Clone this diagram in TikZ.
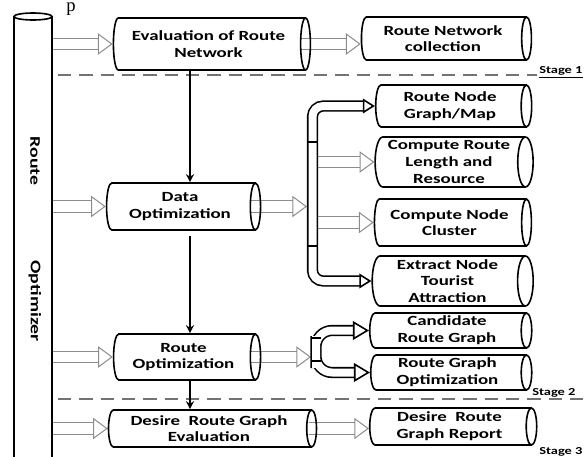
\documentclass[tikz,border=0pt]{standalone}
\usepackage{fontspec}
\newfontfamily\diagfont{Carlito}[FakeStretch=1.35]
\newfontfamily\capfont{Liberation Serif}
\usetikzlibrary{shapes.geometric, arrows.meta}

\pgfdeclarelayer{back}
\pgfsetlayers{back,main}

\begin{document}
\begin{tikzpicture}[x=0.75pt, y=-0.75pt,
    cyl/.style={cylinder, draw, line width=1.2pt, aspect=0.35, inner sep=0.5pt,
        align=center, font=\diagfont\bfseries\fontsize{10.5}{12.5}\selectfont},
    hollow/.style={draw=black!45, line width=0.75pt, double=white, double distance=8pt,
        -{Triangle[open, length=11pt, width=16pt]}},
    pipe/.style={draw=black, line width=1.2pt, double=white, double distance=6pt,
        rounded corners=8pt},
    down/.style={line width=1.2pt, -{Stealth[length=6pt, width=6pt]}},
    stageline/.style={draw=black!55, line width=1.5pt, dash pattern=on 10pt off 6pt},
    stage/.style={font=\diagfont\bfseries\fontsize{8}{9}\selectfont, inner sep=0pt}]

    \useasboundingbox (0,0) rectangle (587,457);

    % route optimizer column
    \draw[line width=1.2pt] (14,16.5) -- (14,470) (52,16.5) -- (52,470);
    \draw[line width=1.2pt] (33,16.5) ellipse (19 and 3.5);
    \node[rotate=-90, font=\diagfont\bfseries\fontsize{11}{12}\selectfont] (rtxt) at (35,161) {Route};
    \node[rotate=-90, font=\diagfont\bfseries\fontsize{11}{12}\selectfont] (otxt) at (35,301) {Optimizer};
    \node[font=\capfont\fontsize{14}{14}\selectfont, anchor=base, inner sep=0pt] (ptxt) at (71,11) {p};

    \coordinate (rail) at (52,0);
    \coordinate (spine) at (190,0);
    \coordinate (hub1) at (307,0);
    \coordinate (bar1) at (318,0);
    \coordinate (hub2) at (311,0);

    % stage 1
    \node[cyl, minimum height=147.75pt, minimum width=39pt] (eval) at (208.5,44) {Evaluation of Route\\Network};
    \node[cyl, minimum height=127.5pt, minimum width=32.25pt] (collect) at (443,38.5) {Route Network\\collection};

    % stage 2
    \node[cyl, minimum height=115.5pt, minimum width=35.25pt] (dataopt) at (180,206.5) {Data\\Optimization};
    \node[cyl, minimum height=117pt, minimum width=31.5pt] (graph) at (450,106) {Route Node\\Graph/Map};
    \node[cyl, minimum height=118.5pt, minimum width=37.5pt] (length) at (449,162) {Compute Route\\Length and\\Resource};
    \node[cyl, minimum height=117.75pt, minimum width=35.25pt] (cluster) at (449.5,222.5) {Compute Node\\Cluster};
    \node[cyl, minimum height=120.75pt, minimum width=37.5pt] (extract) at (447.5,281) {Extract Node\\Tourist\\Attraction};
    \node[cyl, minimum height=110.25pt, minimum width=34.5pt] (routeopt) at (183.5,357) {Route\\Optimization};
    \node[cyl, minimum height=121.5pt, minimum width=26.25pt] (cand) at (447,330.5) {Candidate\\Route Graph};
    \node[cyl, minimum height=120.75pt, minimum width=26.25pt] (rgopt) at (447.5,372.5) {Route Graph\\Optimization};

    % stage 3
    \node[cyl, minimum height=156pt, minimum width=27.75pt] (desire) at (209,428.5) {Desire~ Route Graph\\Evaluation};
    \node[cyl, minimum height=125.25pt, minimum width=27.75pt] (report) at (449.5,426.5) {Desire~ Route\\Graph Report};

    \node[stage, anchor=west] (stage1) at (539,72) {\underline{Stage 1}};
    \node[stage, anchor=west] (stage2) at (532,393) {Stage 2};
    \node[stage, anchor=west] (stage3) at (539,452) {Stage 3};

    \begin{pgfonlayer}{back}
    \draw[stageline] (58,75) -- (537,75);
    \draw[stageline] (58,399) -- (587,399);

    \draw[hollow] (eval.west -| rail) -- (eval.west);
    \draw[hollow] (dataopt.west -| rail) -- (dataopt.west);
    \draw[hollow] (routeopt.west -| rail) -- (routeopt.west);
    \draw[hollow] (desire.west -| rail) -- (desire.west);

    \draw[hollow, shorten <=-8pt] (eval.east) -- (eval.east -| collect.west);
    \draw[hollow, shorten <=-8pt] (dataopt.east) -- (dataopt.east -| hub1);
    \draw[hollow, shorten <=-8pt] (routeopt.east) -- (routeopt.east -| hub2);
    \draw[hollow, shorten <=-6pt] (desire.east) -- (desire.east -| report.west);
    \draw[hollow] (length.west -| bar1) -- (length.west);
    \draw[hollow] (cluster.west -| bar1) -- (cluster.west);

    \draw[pipe, {Triangle[open, length=9pt, width=11pt]}-{Triangle[open, length=9pt, width=11pt]}]
        (graph.west) -| (312.5,222.5) |- (extract.west);
    \draw[pipe, rounded corners=12pt, {Triangle[open, length=12pt, width=14pt]}-{Triangle[open, length=12pt, width=14pt]}]
        (cand.west) -| (316,352) |- (rgopt.west);
    \end{pgfonlayer}
    \draw[line width=1.2pt] (308,142) -- (317,142) (308,246) -- (317,246);
    \draw[line width=1.2pt] (311,338) -- (321,338) (311,361) -- (321,361);

    \draw[down] (eval.south -| spine) -- (dataopt.north -| spine);
    \draw[down, shorten <=4pt] (dataopt.south -| spine) -- (routeopt.north -| spine);
    \draw[down] (routeopt.south -| spine) -- (desire.north -| spine);
\end{tikzpicture}
\end{document}
